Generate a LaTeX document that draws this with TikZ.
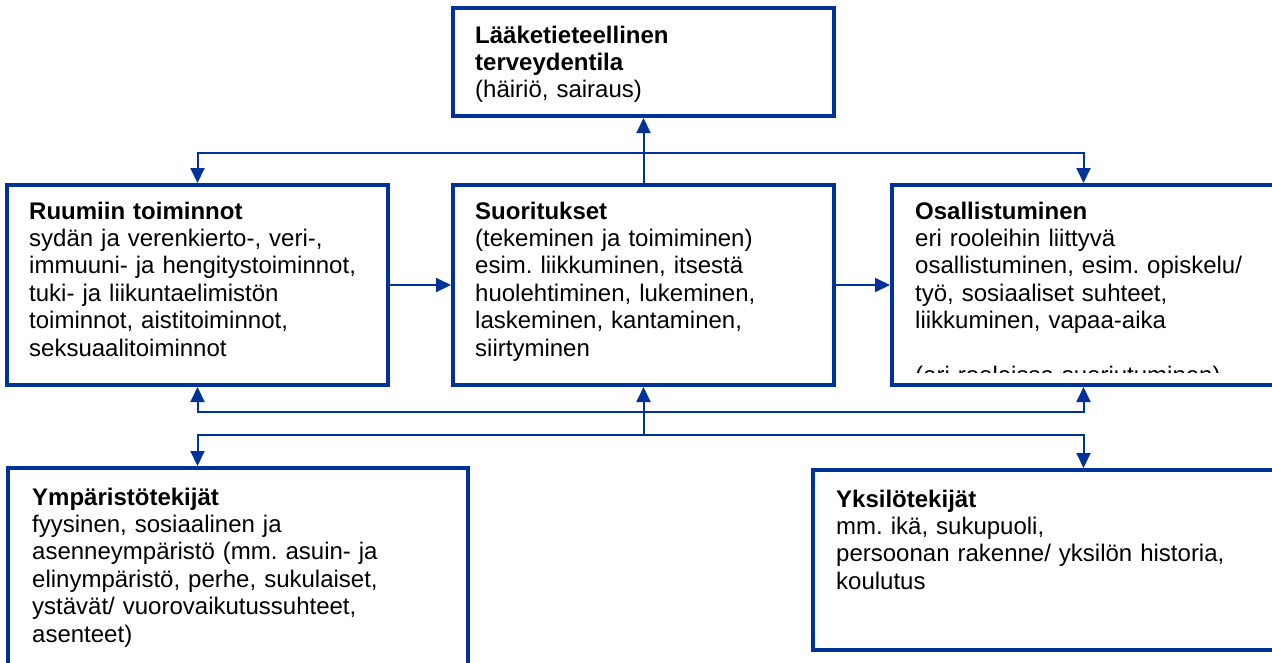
\documentclass[tikz,border=0pt]{standalone}
\usepackage{fontspec}
\setmainfont{Liberation Sans}
\usetikzlibrary{positioning,arrows.meta,calc}
\definecolor{icfsini}{RGB}{0,51,153}
\frenchspacing

\begin{document}
\begin{tikzpicture}[x=1pt, y=-1pt,
  ruutu/.style={draw=icfsini, line width=4pt, minimum width=381pt,
                minimum height=200pt, inner sep=0pt},
  teksti/.style={anchor=base west, text width=440pt, align=left, inner sep=0pt,
                 font=\fontsize{24}{27.4}\selectfont, text=black},
  nuoli/.style={-{Triangle[length=15pt, width=14pt]}, line width=2pt, color=icfsini}]
  \useasboundingbox (0,0) rectangle (1272,662);
  \clip (0,0) rectangle (1272,662);
  \node[ruutu, minimum height=108pt] (laak) at (643.5,62) {};
  \node[ruutu, below=65pt of laak] (suor) {};
  \node[ruutu, left=61pt of suor] (ruum) {};
  \node[ruutu, right=54pt of suor, minimum width=383pt] (osal) {};
  \node[ruutu, minimum width=460pt] (ymp) at (238,568) {};
  \node[ruutu, minimum width=461pt, minimum height=180pt] (yksi) at (1043.5,560) {};
  \node[teksti] (laakt) at ($(laak.north west)+(24,37)$)
       {\textbf{Lääketieteellinen}\\\textbf{terveydentila}\\(häiriö, sairaus)};
  \node[teksti] (ruumt) at ($(ruum.north west)+(24,36)$)
       {\textbf{Ruumiin toiminnot}\\sydän ja verenkierto-, veri-,\\immuuni- ja hengitystoiminnot,\\tuki- ja liikuntaelimistön\\toiminnot, aistitoiminnot,\\seksuaalitoiminnot};
  \node[teksti] (suort) at ($(suor.north west)+(24,36)$)
       {\textbf{Suoritukset}\\(tekeminen ja toimiminen)\\esim. liikkuminen, itsestä\\huolehtiminen, lukeminen,\\laskeminen, kantaminen,\\siirtyminen};
  \begin{scope}
    \clip (osal.north west) rectangle ($(osal.south east)+(0,-15)$);
    \node[teksti] (osalt) at ($(osal.north west)+(25,36)$)
         {\textbf{Osallistuminen}\\eri rooleihin liittyvä\\osallistuminen, esim. opiskelu/\\työ, sosiaaliset suhteet,\\liikkuminen, vapaa-aika\\[27.4pt](eri rooleissa suoriutuminen)};
  \end{scope}
  \node[teksti] (ympt) at ($(ymp.north west)+(26,39)$)
       {\textbf{Ympäristötekijät}\\fyysinen, sosiaalinen ja\\asenneympäristö (mm. asuin- ja\\elinympäristö, perhe, sukulaiset,\\ystävät/ vuorovaikutussuhteet,\\asenteet)};
  \node[teksti] (yksit) at ($(yksi.north west)+(25,39)$)
       {\textbf{Yksilötekijät}\\mm. ikä, sukupuoli,\\persoonan rakenne/ yksilön historia,\\koulutus};
  \coordinate (ylaraja) at (0,153);
  \coordinate (alaraja) at (0,412);
  \coordinate (alaraja2) at (0,435);
  \draw[nuoli] (suor.north) -- (laak.south);
  \foreach \kohde in {ruum, osal}
    \draw[nuoli] (suor.north |- ylaraja) -| (\kohde.north);
  \foreach \a/\b in {ruum/suor, suor/osal}
    \draw[nuoli] (\a) -- (\b);
  \foreach \kohde in {ruum, osal}
    \draw[nuoli] (suor.south |- alaraja) -| (\kohde.south);
  \draw[nuoli] (suor.south |- alaraja2) -- (suor.south);
  \draw[nuoli] (suor.south |- alaraja2) -| (ruum.south |- ymp.north);
  \draw[nuoli] (suor.south |- alaraja2) -| (osal.south |- yksi.north);
\end{tikzpicture}
\end{document}
